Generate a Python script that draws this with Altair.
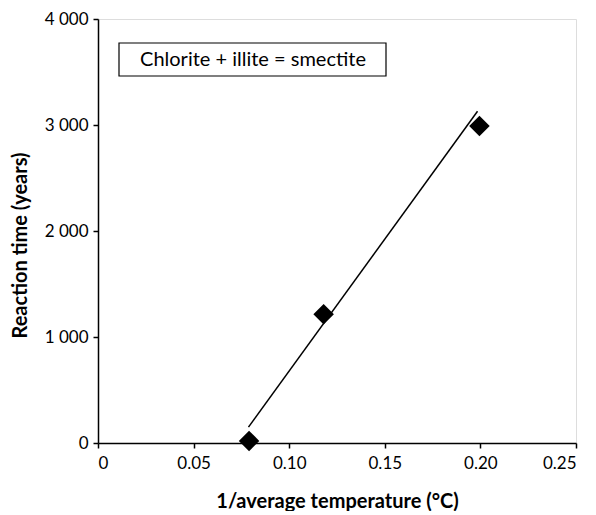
import altair as alt
import pandas as pd

# Observed points
inv_temp = [0.079, 0.118, 0.1995]
reaction_time = [20, 1215, 2990]

# Fitted line endpoints
fit_x = [0.0787, 0.1985]
fit_y = [150, 3130]

x_ticks = [0, 0.05, 0.10, 0.15, 0.20, 0.25]
y_ticks = [0, 1000, 2000, 3000, 4000]

legend_label = ["Chlorite + illite = smectite"]

pts = pd.DataFrame({"x": inv_temp, "y": reaction_time})
fit = pd.DataFrame({"x": fit_x, "y": fit_y})
lab = pd.DataFrame({"t": legend_label})

FONT = "Lato"

xscale = alt.Scale(domain=[0, 0.25], nice=False)
yscale = alt.Scale(domain=[0, 4000], nice=False)

xaxis = alt.Axis(
    values=x_ticks, grid=False, title="1/average temperature (°C)",
    labelExpr="datum.value == 0 ? '0' : format(datum.value, '.2f')",
    domainColor="black", tickColor="black", tickSize=5, domainWidth=1.5, tickWidth=1.5,
    labelFont=FONT, labelFontSize=17, labelColor="black", labelPadding=7,
    titleFont=FONT, titleFontSize=20, titleFontWeight="bold", titleColor="black",
    titlePadding=20,
)
yaxis = alt.Axis(
    values=y_ticks, grid=False, title="Reaction time (years)",
    labelExpr="replace(format(datum.value, ','), ',', ' ')",
    domainColor="black", tickColor="black", tickSize=5, domainWidth=1.5, tickWidth=1.5,
    labelFont=FONT, labelFontSize=17, labelColor="black", labelPadding=5,
    titleFont=FONT, titleFontSize=20, titleFontWeight="bold", titleColor="black",
    titlePadding=14, titleY=226,
)

line = alt.Chart(fit).mark_line(color="black", strokeWidth=1.5).encode(
    x=alt.X("x:Q", scale=xscale, axis=xaxis),
    y=alt.Y("y:Q", scale=yscale, axis=yaxis),
)
points = alt.Chart(pts).mark_point(
    shape="diamond", filled=True, color="black", size=420, opacity=1
).encode(x="x:Q", y="y:Q")

box = alt.Chart(lab).mark_rect(fill="white", stroke="black", strokeWidth=1.2).encode(
    x=alt.value(21), x2=alt.value(288), y=alt.value(24), y2=alt.value(57)
)
text = alt.Chart(lab).mark_text(
    font=FONT, fontSize=20, color="black", align="center", baseline="middle"
).encode(x=alt.value(155), y=alt.value(40.5), text="t:N")

chart = alt.layer(line, points, box, text).properties(
    width=478, height=424,
    padding={"left": 2, "top": 2, "right": 5, "bottom": 0},
).configure_view(stroke=None).configure(background="white")

chart.save("out.html", embed_options={"renderer": "svg", "actions": False})
